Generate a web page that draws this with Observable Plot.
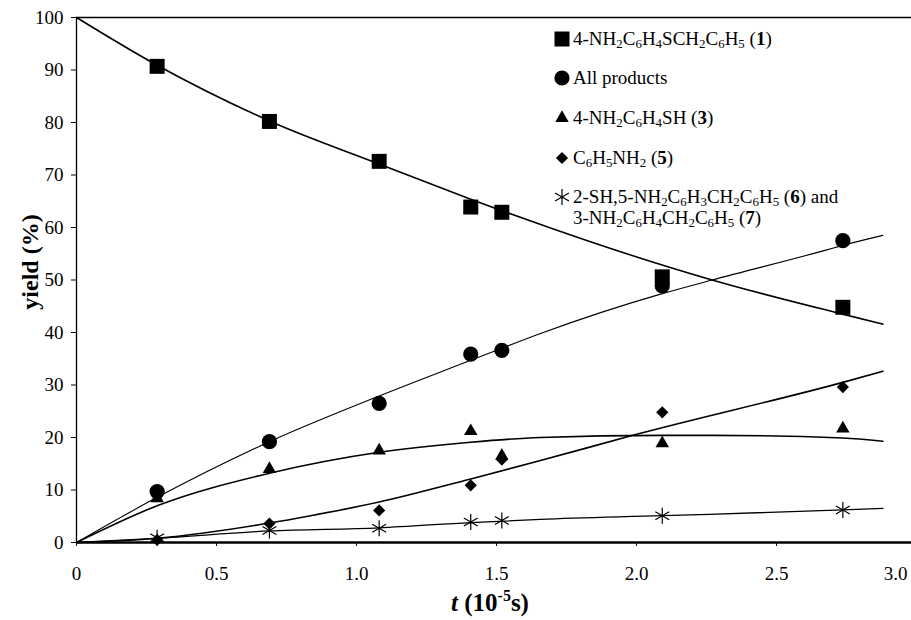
<!DOCTYPE html>
<html>
<head>
<meta charset="utf-8">
<script src="https://cdn.jsdelivr.net/npm/d3@7"></script>
<script src="https://cdn.jsdelivr.net/npm/@observablehq/plot@0.6"></script>
<style>
  html, body { margin: 0; padding: 0; background: #fff; }
  #wrap { position: relative; width: 911px; height: 620px; font-family: "Liberation Serif", "DejaVu Serif", "Times New Roman", Times, serif; color: #000; }
  .row { position: absolute; left: 553px; font-size: 19px; line-height: 20px; white-space: nowrap; }
  .row svg { position: absolute; left: 0; top: 1px; overflow: visible; }
  .row .txt { position: absolute; left: 20px; top: 0; }
  sub { font-size: 0.68em; vertical-align: -0.22em; line-height: 0; }
</style>
</head>
<body>
<div id="wrap"></div>
<script>
// ---- data ----
const tMeasured = [0.288, 0.689, 1.081, 1.408, 1.519, 2.092, 2.737];
const ySulfide  = [90.7, 80.2, 72.6, 63.9, 62.9, 50.6, 44.8];   // (1) squares
const yAll      = [9.7, 19.2, 26.5, 35.9, 36.6, 48.9, 57.5];    // all products, circles
const yThiol    = [8.4, 14.0, 17.5, 21.2, 16.5, 18.9, 21.7];    // (3) triangles
const yAniline  = [0.5, 3.6, 6.1, 10.9, 15.8, 24.8, 29.6];      // (5) diamonds
const yBenzyl   = [0.9, 2.3, 2.7, 3.9, 4.2, 5.1, 6.2];          // (6)+(7) asterisks

// fitted trend curves
const curveT1 = [0, 0.288, 0.689, 1.081, 1.408, 1.519, 1.693, 1.913, 2.27, 2.736, 2.88];
const curveY1 = [100, 90.9, 80.3, 72.1, 65.4, 63.2, 59.9, 55.9, 50.0, 43.5, 41.6];
const curveT2 = [0, 0.288, 0.689, 1.081, 1.408, 1.519, 1.657, 2.092, 2.27, 2.67, 2.737, 2.88];
const curveY2 = [0, 8.6, 19.2, 27.9, 34.7, 37.0, 39.8, 47.4, 50.0, 55.6, 56.6, 58.5];
const curveT3 = [0, 0.288, 0.689, 1.081, 1.408, 1.657, 2.09, 2.27, 2.737, 2.88];
const curveY3 = [0, 7.0, 13.2, 17.2, 19.1, 20.0, 20.4, 20.4, 19.9, 19.3];
const curveT5 = [0, 0.288, 0.689, 0.836, 1.081, 1.408, 1.657, 2.0, 2.737, 2.88];
const curveY5 = [0, 0.8, 3.7, 5.1, 7.7, 12.1, 15.6, 20.6, 30.5, 32.6];
const curveT6 = [0, 0.288, 0.689, 1.081, 1.408, 1.657, 2.092, 2.737, 2.88];
const curveY6 = [0, 0.8, 2.2, 2.8, 3.8, 4.4, 5.1, 6.2, 6.5];

const xTicks = [0, 0.5, 1.0, 1.5, 2.0, 2.5];
const xLastTick = ["3.0"];
const yTicks = [0, 10, 20, 30, 40, 50, 60, 70, 80, 90, 100];

const legendItems = [
  {symbol: "square", r: 8.46, lines: ['4-NH<sub>2</sub>C<sub>6</sub>H<sub>4</sub>SCH<sub>2</sub>C<sub>6</sub>H<sub>5</sub> (<b>1</b>)']},
  {symbol: "circle", r: 7.6, lines: ['All products']},
  {symbol: "triangle", r: 5.0, lines: ['4-NH<sub>2</sub>C<sub>6</sub>H<sub>4</sub>SH (<b>3</b>)']},
  {symbol: "diamond2", r: 5.5, lines: ['C<sub>6</sub>H<sub>5</sub>NH<sub>2</sub> (<b>5</b>)']},
  {symbol: "asterisk", r: 7.6, lines: ['2-SH,5-NH<sub>2</sub>C<sub>6</sub>H<sub>3</sub>CH<sub>2</sub>C<sub>6</sub>H<sub>5</sub> (<b>6</b>) and',
                                        '3-NH<sub>2</sub>C<sub>6</sub>H<sub>4</sub>CH<sub>2</sub>C<sub>6</sub>H<sub>5</sub> (<b>7</b>)']}
];
const legendRowCenters = [38.5, 77.5, 117.5, 158.3, 196.7];
const legendLineGap = 21;

// ---- build tables ----
const pts = (ys) => tMeasured.map((t, i) => ({t, y: ys[i]}));
const crv = (ts, ys) => ts.map((t, i) => ({t, y: ys[i]}));

const font = '"Liberation Serif", "DejaVu Serif", "Times New Roman", Times, serif';

const chart = Plot.plot({
  width: 911,
  height: 620,
  marginLeft: 76,
  marginRight: -5,
  marginTop: 17,
  marginBottom: 78,
  style: {fontFamily: font, fontSize: "19px", background: "#fff", color: "#000", overflow: "hidden"},
  x: {domain: [0, 3.0], label: null},
  y: {domain: [0, 100], label: null},
  marks: [
    Plot.ruleY([100], {stroke: "#000", strokeWidth: 1.3}),
    Plot.axisY({ticks: yTicks, tickSize: 5, tickPadding: 8, fontSize: 19, fontFamily: font, label: null, tickFormat: d => String(d)}),
    Plot.axisX({ticks: xTicks, tickSize: 4, tickPadding: 20, fontSize: 19, fontFamily: font, label: null,
                tickFormat: d => d === 0 ? "0" : d.toFixed(1)}),
    Plot.text(xLastTick, {frameAnchor: "bottom-right", textAnchor: "end", lineAnchor: "top", dx: -9, dy: 24, fontSize: 19, fontFamily: font}),
    Plot.line(crv(curveT1, curveY1), {x: "t", y: "y", curve: "monotone-x", stroke: "#000", strokeWidth: 1.6}),
    Plot.line(crv(curveT2, curveY2), {x: "t", y: "y", curve: "monotone-x", stroke: "#000", strokeWidth: 1.1}),
    Plot.line(crv(curveT3, curveY3), {x: "t", y: "y", curve: "monotone-x", stroke: "#000", strokeWidth: 1.6}),
    Plot.line(crv(curveT5, curveY5), {x: "t", y: "y", curve: "monotone-x", stroke: "#000", strokeWidth: 1.6}),
    Plot.line(crv(curveT6, curveY6), {x: "t", y: "y", curve: "monotone-x", stroke: "#000", strokeWidth: 1.3}),
    Plot.ruleX([0], {stroke: "#000", strokeWidth: 1.3}),
    Plot.ruleY([0], {stroke: "#000", strokeWidth: 2.5}),
    Plot.dot(pts(yAniline), {x: "t", y: "y", symbol: "diamond2", r: 5.5, fill: "#000", stroke: "none"}),
    Plot.dot(pts(yThiol), {x: "t", y: "y", symbol: "triangle", r: 5.0, fill: "#000", stroke: "none"}),
    Plot.dot(pts(ySulfide), {x: "t", y: "y", symbol: "square", r: 8.46, fill: "#000", stroke: "none"}),
    Plot.dot(pts(yAll), {x: "t", y: "y", symbol: "circle", r: 7.6, fill: "#000", stroke: "none"}),
    Plot.dot(pts(yBenzyl), {x: "t", y: "y", symbol: "asterisk", r: 7.6, fill: "none", stroke: "#000", strokeWidth: 1.2})
  ]
});

const wrap = document.getElementById("wrap");
wrap.appendChild(chart);

// axis titles
const svg = d3.select(chart);
const xt = svg.append("text")
  .attr("x", 490).attr("y", 611)
  .attr("text-anchor", "middle")
  .attr("font-family", font).attr("font-size", 25).attr("font-weight", "bold").attr("fill", "#000");
xt.append("tspan").attr("font-style", "italic").text("t");
xt.append("tspan").text(" (10");
xt.append("tspan").attr("font-size", 16).attr("dy", -10).text("-5");
xt.append("tspan").attr("dy", 10).text("s)");

svg.append("text")
  .attr("transform", "translate(38,262) rotate(-90)")
  .attr("text-anchor", "middle")
  .attr("font-family", font).attr("font-size", 24).attr("font-weight", "bold").attr("fill", "#000")
  .text("yield (%)");

// legend
const symbolOf = {square: d3.symbolSquare, circle: d3.symbolCircle, triangle: d3.symbolTriangle,
                  diamond2: d3.symbolDiamond2, asterisk: d3.symbolAsterisk};
legendItems.forEach((item, i) => {
  const row = document.createElement("div");
  row.className = "row";
  row.style.top = (legendRowCenters[i] - 10) + "px";
  const s = d3.create("svg").attr("width", 18).attr("height", 18);
  s.append("path")
    .attr("transform", "translate(9,9)")
    .attr("d", d3.symbol(symbolOf[item.symbol], Math.PI * item.r * item.r)())
    .attr("fill", item.symbol === "asterisk" ? "none" : "#000")
    .attr("stroke", item.symbol === "asterisk" ? "#000" : "none")
    .attr("stroke-width", 1.2);
  row.appendChild(s.node());
  item.lines.forEach((ln, j) => {
    const txt = document.createElement("span");
    txt.className = "txt";
    txt.style.top = (j * legendLineGap) + "px";
    txt.innerHTML = ln;
    row.appendChild(txt);
  });
  wrap.appendChild(row);
});
</script>
</body>
</html>
